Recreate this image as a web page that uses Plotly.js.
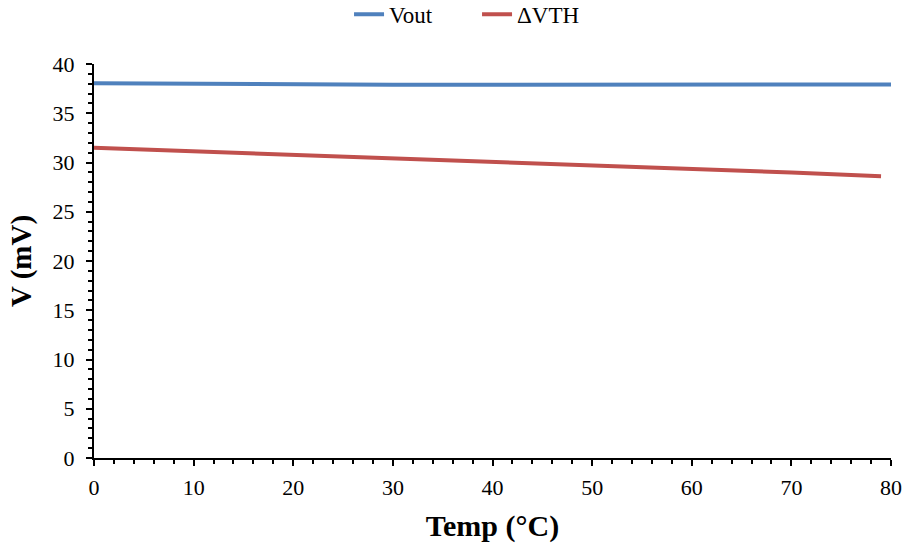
<!DOCTYPE html>
<html><head><meta charset="utf-8">
<script src="https://cdn.plot.ly/plotly-3.0.1.min.js"></script>
<style>body{margin:0;background:#fff}#chart{width:904px;height:548px}</style>
</head><body><div id="chart"></div>
<script>
const temp = [0, 10, 20, 30, 40, 50, 60, 70, 80];
const vout = [38.05, 37.98, 37.93, 37.9, 37.89, 37.89, 37.9, 37.91, 37.92];
const tempVth = [0, 10, 20, 30, 40, 50, 60, 70, 79];
const dvth = [31.5, 31.15, 30.8, 30.42, 30.05, 29.7, 29.35, 28.98, 28.6];
const xTicks = [0, 10, 20, 30, 40, 50, 60, 70, 80];
const yTicks = [0, 5, 10, 15, 20, 25, 30, 35, 40];

const font = 'Liberation Serif, Times New Roman, serif';
const traces = [
  {x: temp, y: vout, name: 'Vout', mode: 'lines', line: {color: '#4f81bd', width: 4}},
  {x: tempVth, y: dvth, name: '\u0394VTH', mode: 'lines', line: {color: '#c0504d', width: 4}}
];
const layout = {
  width: 904, height: 548,
  margin: {l: 94, r: 13, t: 64, b: 90, autoexpand: false},
  paper_bgcolor: '#fff', plot_bgcolor: '#fff',
  font: {family: font, size: 22, color: '#000'},
  showlegend: true,
  legend: {orientation: 'h', x: 0.32, xanchor: 'left', yref: 'container', y: 0.974, yanchor: 'middle',
           font: {family: font, size: 23}, traceorder: 'normal', itemwidth: 30, entrywidth: 83},
  xaxis: {
    range: [0, 80], tickvals: xTicks, ticktext: xTicks.map(String),
    showgrid: false, zeroline: false, showline: true, linecolor: '#000', linewidth: 2,
    ticks: 'outside', ticklen: 6, tickwidth: 2, tickcolor: '#000', ticklabelstandoff: 3,
    minor: {dtick: 2, ticks: 'outside', ticklen: 4, tickwidth: 2, tickcolor: '#000', showgrid: false},
    tickfont: {family: font, size: 22},
    title: {text: '<b>Temp (\u00B0C)</b>', font: {family: font, size: 30}, standoff: 16}
  },
  yaxis: {
    range: [0, 40], tickvals: yTicks, ticktext: yTicks.map(String),
    showgrid: false, zeroline: false, showline: true, linecolor: '#000', linewidth: 2,
    ticks: 'outside', ticklen: 6, tickwidth: 2, tickcolor: '#000', ticklabelstandoff: 7,
    minor: {dtick: 1, ticks: 'outside', ticklen: 4, tickwidth: 2, tickcolor: '#000', showgrid: false},
    tickfont: {family: font, size: 22},
    title: {text: '<b>V (mV)</b>', font: {family: font, size: 29}, standoff: 12}
  }
};
Plotly.newPlot('chart', traces, layout, {displayModeBar: false});
</script></body></html>
